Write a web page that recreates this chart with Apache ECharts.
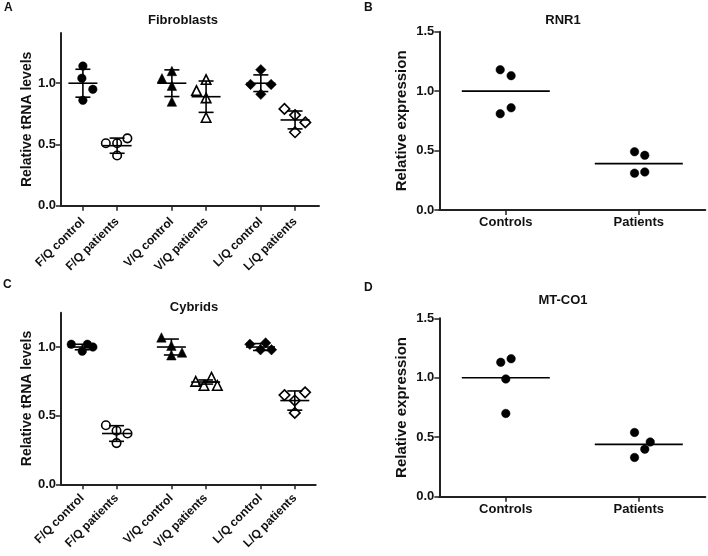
<!DOCTYPE html>
<html>
<head>
<meta charset="utf-8">
<script src="https://cdn.jsdelivr.net/npm/echarts@6/dist/echarts.min.js"></script>
<style>
html,body{margin:0;padding:0;background:#fff;}
#chart{width:708px;height:556px;}
</style>
</head>
<body>
<div id="chart"></div>
<script>
// ---------- Data ----------
const groupLabels = ['F/Q control','F/Q patients','V/Q control','V/Q patients','L/Q control','L/Q patients'];
const groupPos = [0, 1, 2.6, 3.6, 5.2, 6.2];
const groupSymbols = ['circle','circle','triangle','triangle','diamond','diamond'];
const groupFilled = [true, false, true, false, true, false];

// Panel A: Fibroblasts
const fibroValues = [
  [1.14, 1.04, 0.95, 0.86],
  [0.51, 0.51, 0.55, 0.41],
  [1.04, 1.10, 0.98, 0.85],
  [0.94, 1.03, 0.88, 0.72],
  [1.11, 0.99, 0.99, 0.91],
  [0.79, 0.74, 0.68, 0.60]
];
const fibroJitter = [
  [0, -0.03, 0.29, 0],
  [-0.33, 0, 0.30, 0],
  [-0.29, 0, 0, 0],
  [-0.28, 0, 0, 0],
  [0, -0.30, 0.30, 0],
  [-0.31, 0, 0.30, 0]
];
const fibroMean = [1.0, 0.49, 1.0, 0.89, 1.0, 0.70];
const fibroSD = [0.114, 0.062, 0.109, 0.128, 0.068, 0.073];

// Panel C: Cybrids
const cybValues = [
  [1.02, 1.02, 1.00, 0.97],
  [0.43, 0.39, 0.37, 0.30],
  [1.07, 1.01, 0.94, 0.96],
  [0.75, 0.72, 0.78, 0.72],
  [1.02, 1.03, 0.98, 0.98],
  [0.65, 0.67, 0.61, 0.52]
];
const cybJitter = [
  [-0.32, 0.15, 0.31, 0],
  [-0.31, 0, 0.32, 0],
  [-0.29, 0, 0, 0.31],
  [-0.29, -0.05, 0.17, 0.34],
  [-0.31, 0.15, 0, 0.32],
  [-0.30, 0.30, 0, 0]
];
const cybMean = [1.0, 0.37, 1.0, 0.745, 1.0, 0.61];
const cybSD = [0.02, 0.057, 0.058, 0.015, 0.025, 0.07];

// Panels B, D
const exprLabels = ['Controls', 'Patients'];
const exprPos = [0, 1];
const rnr1Values = [[1.18, 1.13, 0.86, 0.81], [0.49, 0.46, 0.31, 0.32]];
const rnr1Jitter = [[-0.042, 0.04, 0.04, -0.042], [-0.032, 0.045, -0.032, 0.045]];
const rnr1Mean = [1.0, 0.39];
const mtco1Values = [[1.13, 1.16, 0.99, 0.70], [0.54, 0.46, 0.40, 0.33]];
const mtco1Jitter = [[-0.038, 0.04, 0, 0], [-0.032, 0.086, 0.045, -0.032]];
const mtco1Mean = [1.0, 0.44];

const yTicksTRNA = [0, 0.5, 1.0];

// ---------- Helpers ----------
const FONT = 'Liberation Sans, Arial, sans-serif';
const INK = '#111';
const AX = '#222';

function labelFor(v, pos, labels) {
  for (let i = 0; i < pos.length; i++) if (Math.abs(pos[i] - v) < 1e-6) return labels[i];
  return '';
}

function xAxisGroups(gridIndex, min, max, margin) {
  return {
    type: 'value', gridIndex, min, max,
    splitLine: {show: false},
    axisLine: {show: true, onZero: false, lineStyle: {color: AX, width: 2}},
    axisTick: {show: true, inside: false, length: 5, lineStyle: {color: AX, width: 1.5}, customValues: groupPos},
    axisLabel: {
      customValues: groupPos, rotate: 45, margin,
      color: INK, fontFamily: FONT, fontWeight: 'bold', fontSize: 12,
      formatter: v => labelFor(v, groupPos, groupLabels)
    }
  };
}
function xAxisExpr(gridIndex) {
  return {
    type: 'value', gridIndex, min: -0.5, max: 1.5,
    splitLine: {show: false},
    axisLine: {show: true, onZero: false, lineStyle: {color: AX, width: 2}},
    axisTick: {show: true, inside: false, length: 5, lineStyle: {color: AX, width: 1.5}, customValues: exprPos},
    axisLabel: {
      customValues: exprPos, margin: 6,
      color: INK, fontFamily: FONT, fontWeight: 'bold', fontSize: 13,
      formatter: v => labelFor(v, exprPos, exprLabels)
    }
  };
}
function yAxisTRNA(gridIndex, max) {
  return {
    type: 'value', gridIndex, min: 0, max,
    name: 'Relative tRNA levels', nameLocation: 'middle', nameRotate: 90, nameGap: 26,
    nameTextStyle: {color: INK, fontFamily: FONT, fontWeight: 'bold', fontSize: 14},
    splitLine: {show: false},
    axisLine: {show: true, onZero: false, lineStyle: {color: AX, width: 2}},
    axisTick: {show: true, inside: false, length: 5, lineStyle: {color: AX, width: 1.5}, customValues: yTicksTRNA},
    axisLabel: {customValues: yTicksTRNA, margin: 5, color: INK, fontFamily: FONT, fontWeight: 'bold', fontSize: 13,
      formatter: v => v.toFixed(1)}
  };
}
function yAxisExpr(gridIndex) {
  return {
    type: 'value', gridIndex, min: 0, max: 1.5, interval: 0.5,
    name: 'Relative expression', nameLocation: 'middle', nameRotate: 90, nameGap: 30,
    nameTextStyle: {color: INK, fontFamily: FONT, fontWeight: 'bold', fontSize: 15},
    splitLine: {show: false},
    axisLine: {show: true, onZero: false, lineStyle: {color: AX, width: 2}},
    axisTick: {show: true, inside: false, length: 5, lineStyle: {color: AX, width: 1.5}},
    axisLabel: {margin: 5, color: INK, fontFamily: FONT, fontWeight: 'bold', fontSize: 13,
      formatter: v => v.toFixed(1)}
  };
}

function groupScatter(axisIdx, values, jitter, posArr, symbols, filled, size) {
  const out = [];
  values.forEach((vals, g) => {
    out.push({
      type: 'scatter', xAxisIndex: axisIdx, yAxisIndex: axisIdx,
      symbol: symbols[g], symbolSize: size[g],
      itemStyle: filled[g]
        ? {color: '#000', borderColor: '#000', borderWidth: 0.5, opacity: 1}
        : {color: '#fff', borderColor: '#000', borderWidth: 1.6, opacity: 1},
      z: 3, silent: true,
      data: vals.map((v, i) => [posArr[g] + jitter[g][i], v])
    });
  });
  return out;
}

function meanSDSeries(axisIdx, posArr, means, sds) {
  return {
    type: 'custom', xAxisIndex: axisIdx, yAxisIndex: axisIdx, z: 5, silent: true,
    data: posArr.map((p, i) => [p, means[i], means[i] - sds[i], means[i] + sds[i]]),
    renderItem: function (params, api) {
      const c = api.coord([api.value(0), api.value(1)]);
      const lo = api.coord([api.value(0), api.value(2)]);
      const hi = api.coord([api.value(0), api.value(3)]);
      const st = {stroke: '#000', lineWidth: 1.6};
      return {
        type: 'group', children: [
          {type: 'line', shape: {x1: c[0] - 14.5, y1: c[1], x2: c[0] + 14.5, y2: c[1]}, style: st},
          {type: 'line', shape: {x1: c[0], y1: lo[1], x2: c[0], y2: hi[1]}, style: st},
          {type: 'line', shape: {x1: c[0] - 7.5, y1: lo[1], x2: c[0] + 7.5, y2: lo[1]}, style: st},
          {type: 'line', shape: {x1: c[0] - 7.5, y1: hi[1], x2: c[0] + 7.5, y2: hi[1]}, style: st}
        ]
      };
    }
  };
}
function meanLineSeries(axisIdx, posArr, means) {
  return {
    type: 'custom', xAxisIndex: axisIdx, yAxisIndex: axisIdx, z: 5, silent: true,
    data: posArr.map((p, i) => [p, means[i]]),
    renderItem: function (params, api) {
      const c = api.coord([api.value(0), api.value(1)]);
      return {type: 'line', shape: {x1: c[0] - 44, y1: c[1], x2: c[0] + 44, y2: c[1]},
        style: {stroke: '#000', lineWidth: 1.6}};
    }
  };
}

const sizesA = [8.5, 8.5, 9.5, 9.5, 10.5, 10.5];
const exprSym = ['circle', 'circle'];
const exprFilled = [true, true];
const exprSize = [8.5, 8.5];

function txt(x, y, text, size, align) {
  return {type: 'text', x, y, style: {text, fill: INK, font: 'bold ' + size + 'px ' + FONT,
    textAlign: align || 'center', textVerticalAlign: 'middle'}};
}

const option = {
  backgroundColor: '#fff',
  animation: false,
  grid: [
    {left: 61, top: 33, width: 258, height: 172.7},
    {left: 439.3, top: 31.7, width: 266, height: 178.3},
    {left: 61, top: 312.7, width: 254.7, height: 171.6},
    {left: 439.3, top: 318.3, width: 266, height: 178.4}
  ],
  xAxis: [
    xAxisGroups(0, -0.64, 6.9, 14),
    xAxisExpr(1),
    xAxisGroups(2, -0.62, 6.81, 12),
    xAxisExpr(3)
  ],
  yAxis: [
    yAxisTRNA(0, 1.41),
    yAxisExpr(1),
    yAxisTRNA(2, 1.25),
    yAxisExpr(3)
  ],
  graphic: [
    txt(4, 8, 'A', 12, 'left'),
    txt(364, 8, 'B', 12, 'left'),
    txt(3, 285, 'C', 12, 'left'),
    txt(364, 288, 'D', 12, 'left'),
    txt(183, 20, 'Fibroblasts', 13),
    txt(563, 20, 'RNR1', 13),
    txt(194, 307.5, 'Cybrids', 13),
    txt(563, 300.5, 'MT-CO1', 13)
  ],
  series: [].concat(
    groupScatter(0, fibroValues, fibroJitter, groupPos, groupSymbols, groupFilled, sizesA),
    [meanSDSeries(0, groupPos, fibroMean, fibroSD)],
    groupScatter(1, rnr1Values, rnr1Jitter, exprPos, exprSym, exprFilled, exprSize),
    [meanLineSeries(1, exprPos, rnr1Mean)],
    groupScatter(2, cybValues, cybJitter, groupPos, groupSymbols, groupFilled, sizesA),
    [meanSDSeries(2, groupPos, cybMean, cybSD)],
    groupScatter(3, mtco1Values, mtco1Jitter, exprPos, exprSym, exprFilled, exprSize),
    [meanLineSeries(3, exprPos, mtco1Mean)]
  )
};

const chart = echarts.init(document.getElementById('chart'), null, {renderer: 'canvas'});
chart.setOption(option);
</script>
</body>
</html>
